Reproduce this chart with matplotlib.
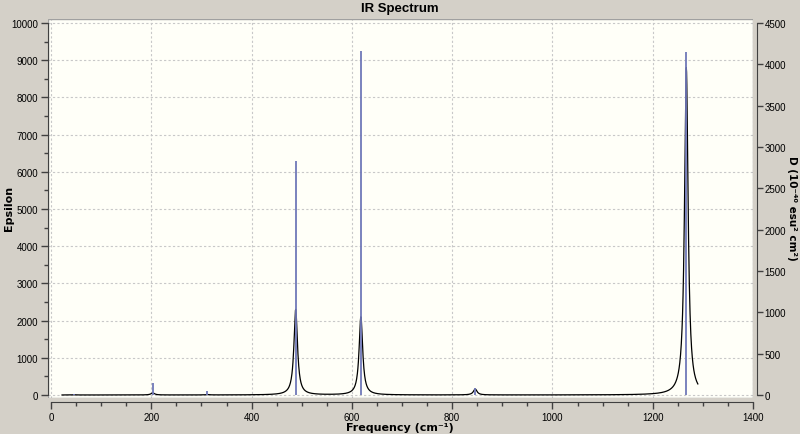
import numpy as np
import matplotlib
matplotlib.use('Agg')
import matplotlib.pyplot as plt
from matplotlib.ticker import MultipleLocator

plt.rcParams['font.family'] = ['Liberation Sans', 'DejaVu Sans']
label_font = ['DejaVu Sans']

# stick spectrum (right axis, D in 1e-40 esu^2 cm^2)
freqs = [46, 203, 312, 488, 618, 846, 1267]
dipole = [12, 145, 48, 2830, 4160, 85, 4150]

# broadened curve peak heights (left axis, epsilon)
eps_peak = [5, 55, 10, 2300, 2100, 160, 8800]
hwhm = 4.3
curve_start, curve_end = 22, 1290

x = np.arange(curve_start, curve_end + 0.5, 0.5)
eps = np.zeros_like(x)
for f, a in zip(freqs, eps_peak):
    eps += a * hwhm**2 / ((x - f)**2 + hwhm**2)

bg = '#d4d0c8'
fig = plt.figure(figsize=(8, 4.35), dpi=100, facecolor=bg)
W, H = 800, 435
ax = fig.add_axes([48 / W, 1 - 399 / H, (753 - 48) / W, (399 - 20) / H])
ax.set_facecolor('#fffff8')
ax.set_xlim(-6, 1400)
ax.set_ylim(-81, 10108)

ax.plot(x, eps, color='black', lw=0.9, zorder=3)

ax2 = ax.twinx()
ax2.set_ylim(-81 * 0.45, 10108 * 0.45)
ax2.vlines(freqs, 0, dipole, color='#7078b8', lw=1.3, zorder=2)

for a in (ax, ax2):
    for s in a.spines.values():
        s.set_visible(False)

ax.spines['left'].set_visible(True)
ax.spines['left'].set_bounds(0, 10000)
ax.spines['left'].set_color('#404040')
ax.spines['bottom'].set_visible(True)
ax.spines['bottom'].set_bounds(0, 1400)
ax.spines['bottom'].set_position(('outward', 3))
ax.spines['bottom'].set_color('#404040')
ax2.spines['right'].set_visible(True)
ax2.spines['right'].set_bounds(0, 4500)
ax2.spines['right'].set_position(('outward', 3))
ax2.spines['right'].set_color('#404040')

ax.set_xticks(np.arange(0, 1401, 200))
ax.set_yticks(np.arange(0, 10001, 1000))
ax2.set_yticks(np.arange(0, 4501, 500))
ax.xaxis.set_minor_locator(MultipleLocator(50))
ax.yaxis.set_minor_locator(MultipleLocator(500))

ax.tick_params(which='major', length=5, width=1, color='#404040', labelsize=7, pad=2)
ax.tick_params(which='minor', length=3, width=1, color='#404040')
ax2.tick_params(which='major', length=4, width=1, color='#404040', labelsize=7, pad=1.5)

ax.grid(True, which='major', color='#c8c8c8', ls=(0, (2, 2)), lw=0.8)
ax.set_axisbelow(True)

# frame around plot area
ax.add_patch(plt.Rectangle((0, 0), 1, 1, transform=ax.transAxes, fill=False,
                           ec='#a0a0a0', lw=1, zorder=1))

fig.text(400 / W, 1 - 9 / H, 'IR Spectrum', ha='center', va='center',
         fontsize=9.5, fontweight='bold')
fig.text(400 / W, 1 - 428 / H, 'Frequency (cm⁻¹)', ha='center', va='center',
         fontsize=8, fontweight='bold', family=label_font)
fig.text(9 / W, 1 - 208 / H, 'Epsilon', ha='center', va='center',
         rotation=90, fontsize=8, fontweight='bold', family=label_font)
fig.text(792 / W, 1 - 208 / H, 'D (10⁻⁴⁰ esu² cm²)', ha='center',
         va='center', rotation=-90, fontsize=7.5, fontweight='bold',
         family=label_font)

fig.savefig('out.png', dpi=100, facecolor=bg)
